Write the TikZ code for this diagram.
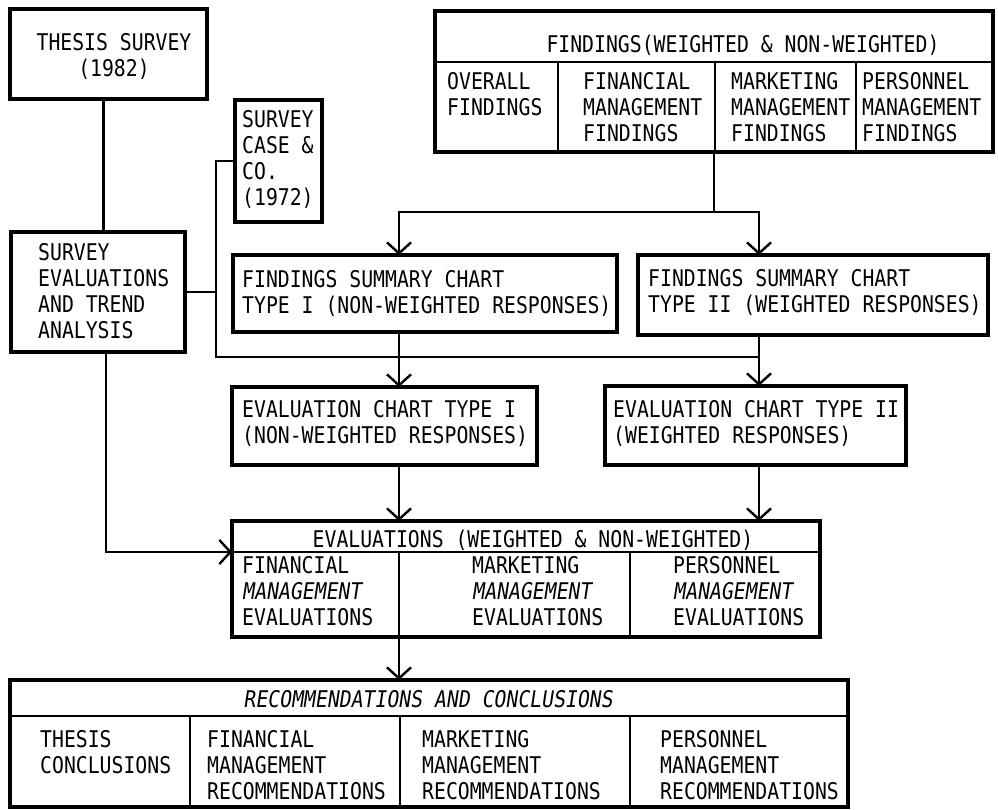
\documentclass[tikz,border=0pt]{standalone}
\usepackage{fontspec}
\newfontfamily\plotfont[FakeStretch=0.86]{DejaVu Sans Mono}
\newfontfamily\plotslant[FakeStretch=0.86,FakeSlant=0.15]{DejaVu Sans Mono}
\usetikzlibrary{arrows.meta}
% strut fixing the height of the first text line
\newcommand\tstrut{\rule{0pt}{19pt}}
% box given by its corners (x1,y1) and (x2,y2)
\newcommand\boxnode[5]{%
  \node[box, minimum width={(#4-#2)*1pt}, minimum height={(#5-#3)*1pt}]
    (#1) at ({(#2+#4)/2},{(#3+#5)/2}) {};}
\begin{document}
\begin{tikzpicture}[x=1pt,y=-1pt,
  box/.style={draw, line width=3.4pt, inner sep=0pt, outer sep=0pt},
  divider/.style={line width=2.2pt},
  link/.style={line width=2.4pt},
  >={Straight Barb[length=11pt,width=24pt]},
  txt/.style={anchor=north west, inner sep=0pt, align=left,
    font=\plotfont\fontsize{23}{26}\selectfont},
  ctxt/.style={txt, anchor=north, align=center},
]
\useasboundingbox[fill=white] (0,0) rectangle (998,810);

% boxes
\boxnode{thesis}{10}{9}{207}{99}
\boxnode{case}{235}{100}{322}{222}
\boxnode{survey}{11}{232}{185}{352}
\boxnode{findings}{435}{11}{993}{152}
\boxnode{fsc1}{233}{255}{617}{332}
\boxnode{fsc2}{638}{255}{988}{335}
\boxnode{ec1}{232}{387}{537}{465}
\boxnode{ec2}{605}{386}{906}{465}
\boxnode{eval}{232}{521}{820}{637}
\boxnode{recs}{10}{680}{848}{807}

% inner divisions
\draw[divider] (435,62) -- (993,62);
\draw[divider] (558,62) -- (558,152);
\draw[divider] (715,62) -- (715,152);
\draw[divider] (856,62) -- (856,152);
\draw[divider] (232,552) -- (820,552);
\draw[divider] (399,552) -- (399,637);
\draw[divider] (630,552) -- (630,637);
\draw[divider] (10,716) -- (848,716);
\draw[divider] (190,716) -- (190,807);
\draw[divider] (400,716) -- (400,807);
\draw[divider] (630,716) -- (630,807);

% texts
\node[ctxt] (thesisT) at (114,31) {\tstrut THESIS SURVEY\\(1982)};
\node[txt] (caseT) at (242,108) {\tstrut SURVEY\\CASE \&\\CO.\\(1972)};
\node[txt] (surveyT) at (38,241) {\tstrut SURVEY\\EVALUATIONS\\AND TREND\\ANALYSIS};
\node[ctxt] (findT) at (743,33) {\tstrut FINDINGS(WEIGHTED \& NON-WEIGHTED)};
\node[txt] (findA) at (447,70) {\tstrut OVERALL\\FINDINGS};
\node[txt] (findB) at (583,70) {\tstrut FINANCIAL\\MANAGEMENT\\FINDINGS};
\node[txt] (findC) at (731,70) {\tstrut MARKETING\\MANAGEMENT\\FINDINGS};
\node[txt] (findD) at (862,70) {\tstrut PERSONNEL\\MANAGEMENT\\FINDINGS};
\node[txt] (fsc1T) at (242,268) {\tstrut FINDINGS SUMMARY CHART\\TYPE I (NON-WEIGHTED RESPONSES)};
\node[txt] (fsc2T) at (648,267) {\tstrut FINDINGS SUMMARY CHART\\TYPE II (WEIGHTED RESPONSES)};
\node[txt] (ec1T) at (242,398) {\tstrut EVALUATION CHART TYPE I\\(NON-WEIGHTED RESPONSES)};
\node[txt] (ec2T) at (613,398) {\tstrut EVALUATION CHART TYPE II\\(WEIGHTED RESPONSES)};
\node[ctxt] (evalT) at (533,528) {\tstrut EVALUATIONS (WEIGHTED \& NON-WEIGHTED)};
\node[txt] (evalA) at (242,554) {\tstrut FINANCIAL\\{\plotslant MANAGEMENT}\\EVALUATIONS};
\node[txt] (evalB) at (472,554) {\tstrut MARKETING\\{\plotslant MANAGEMENT}\\EVALUATIONS};
\node[txt] (evalC) at (673,554) {\tstrut PERSONNEL\\{\plotslant MANAGEMENT}\\EVALUATIONS};
\node[ctxt] (recsT) at (428,688) {\tstrut\plotslant RECOMMENDATIONS AND CONCLUSIONS};
\node[txt] (recsA) at (40,728) {\tstrut THESIS\\CONCLUSIONS};
\node[txt] (recsB) at (207,728) {\tstrut FINANCIAL\\MANAGEMENT\\RECOMMENDATIONS};
\node[txt] (recsC) at (422,728) {\tstrut MARKETING\\MANAGEMENT\\RECOMMENDATIONS};
\node[txt] (recsD) at (660,728) {\tstrut PERSONNEL\\MANAGEMENT\\RECOMMENDATIONS};

% connector guide coordinates
\coordinate (colL) at (399,0);
\coordinate (colR) at (759,0);
\coordinate (split) at (0,212);
\coordinate (bend) at (216,357);
\coordinate (evline) at (0,552);

% connectors
\draw[link] ([xshift=-5pt]thesis.south) -- ([xshift=-5pt]thesis.south |- survey.north);
\draw[link] (findings.south) -- (findings.south |- split);
\draw[link,<->] (colL |- fsc1.north) -- (colL |- split) -- (colR |- split) -- (colR |- fsc2.north);
\draw[link,->] (colL |- fsc1.south) -- (colL |- ec1.north);
\draw[link,->] (colR |- fsc2.south) -- (colR |- ec2.north);
\draw[link] (case.west) -| (bend) -- (bend -| colR);
\draw[link] (survey.east) -- (survey.east -| bend);
\draw[link,->] (colL |- ec1.south) -- (colL |- eval.north);
\draw[link,->] (colR |- ec2.south) -- (colR |- eval.north);
\draw[link,->] ([xshift=8pt]survey.south) |- (eval.west |- evline);
\draw[link,->] (colL |- eval.south) -- (colL |- recs.north);
\end{tikzpicture}
\end{document}
